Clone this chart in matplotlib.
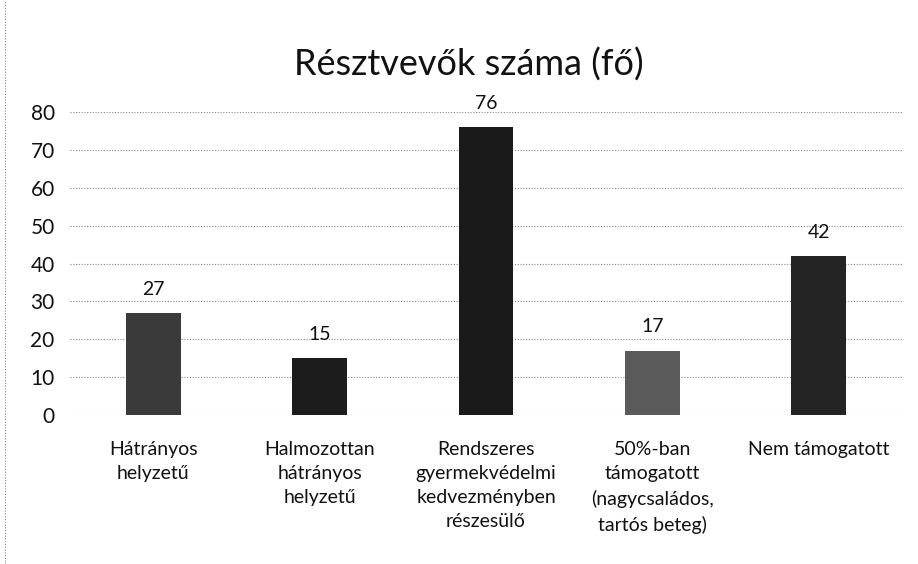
import matplotlib.pyplot as plt

plt.rcParams['font.family'] = ['Lato', 'DejaVu Sans']

categories = ['Hátrányos\nhelyzetű', 'Halmozottan\nhátrányos\nhelyzetű',
              'Rendszeres\ngyermekvédelmi\nkedvezményben\nrészesülő',
              '50%-ban\ntámogatott\n(nagycsaládos,\ntartós beteg)', 'Nem támogatott']
values = [27, 15, 76, 17, 42]
colors = ['#3a3a3a', '#1c1c1c', '#1a1a1a', '#5a5a5a', '#242424']

fig = plt.figure(figsize=(9.18, 5.64), dpi=100)
ax = fig.add_axes([70 / 918, 1 - 415 / 564, 832 / 918, 303 / 564])

x = range(len(values))
bars = ax.bar(x, values, width=0.33, color=colors, zorder=2)
for b, v in zip(bars, values):
    ax.text(b.get_x() + b.get_width() / 2, v + 4, str(v), ha='center', va='bottom',
            fontsize=14, color='#111111', clip_on=False)

ax.set_xlim(-0.5, len(values) - 0.5)
ax.set_ylim(0, 80)
ax.set_yticks(range(0, 81, 10))
ax.yaxis.grid(True, linestyle=(0, (1, 1.5)), color='#888888', linewidth=0.8)
ax.set_axisbelow(True)
for s in ax.spines.values():
    s.set_visible(False)
ax.tick_params(axis='both', length=0, colors='#111111')
ax.tick_params(axis='y', pad=11, labelsize=15)
ax.set_xticks(list(x))
ax.set_xticklabels(categories, fontsize=14, linespacing=1.5, va='top')
ax.tick_params(axis='x', pad=19)

fig.text(0.5 + 10 / 918, 1 - 65 / 564, 'Résztvevők száma (fő)', ha='center', va='center',
         fontsize=26, color='#111111')

fig.add_artist(plt.Line2D([5 / 918, 5 / 918], [0, 1], transform=fig.transFigure,
                          color='#888888', linestyle=(0, (1, 1.5)), linewidth=0.8))

fig.savefig('out.png')
